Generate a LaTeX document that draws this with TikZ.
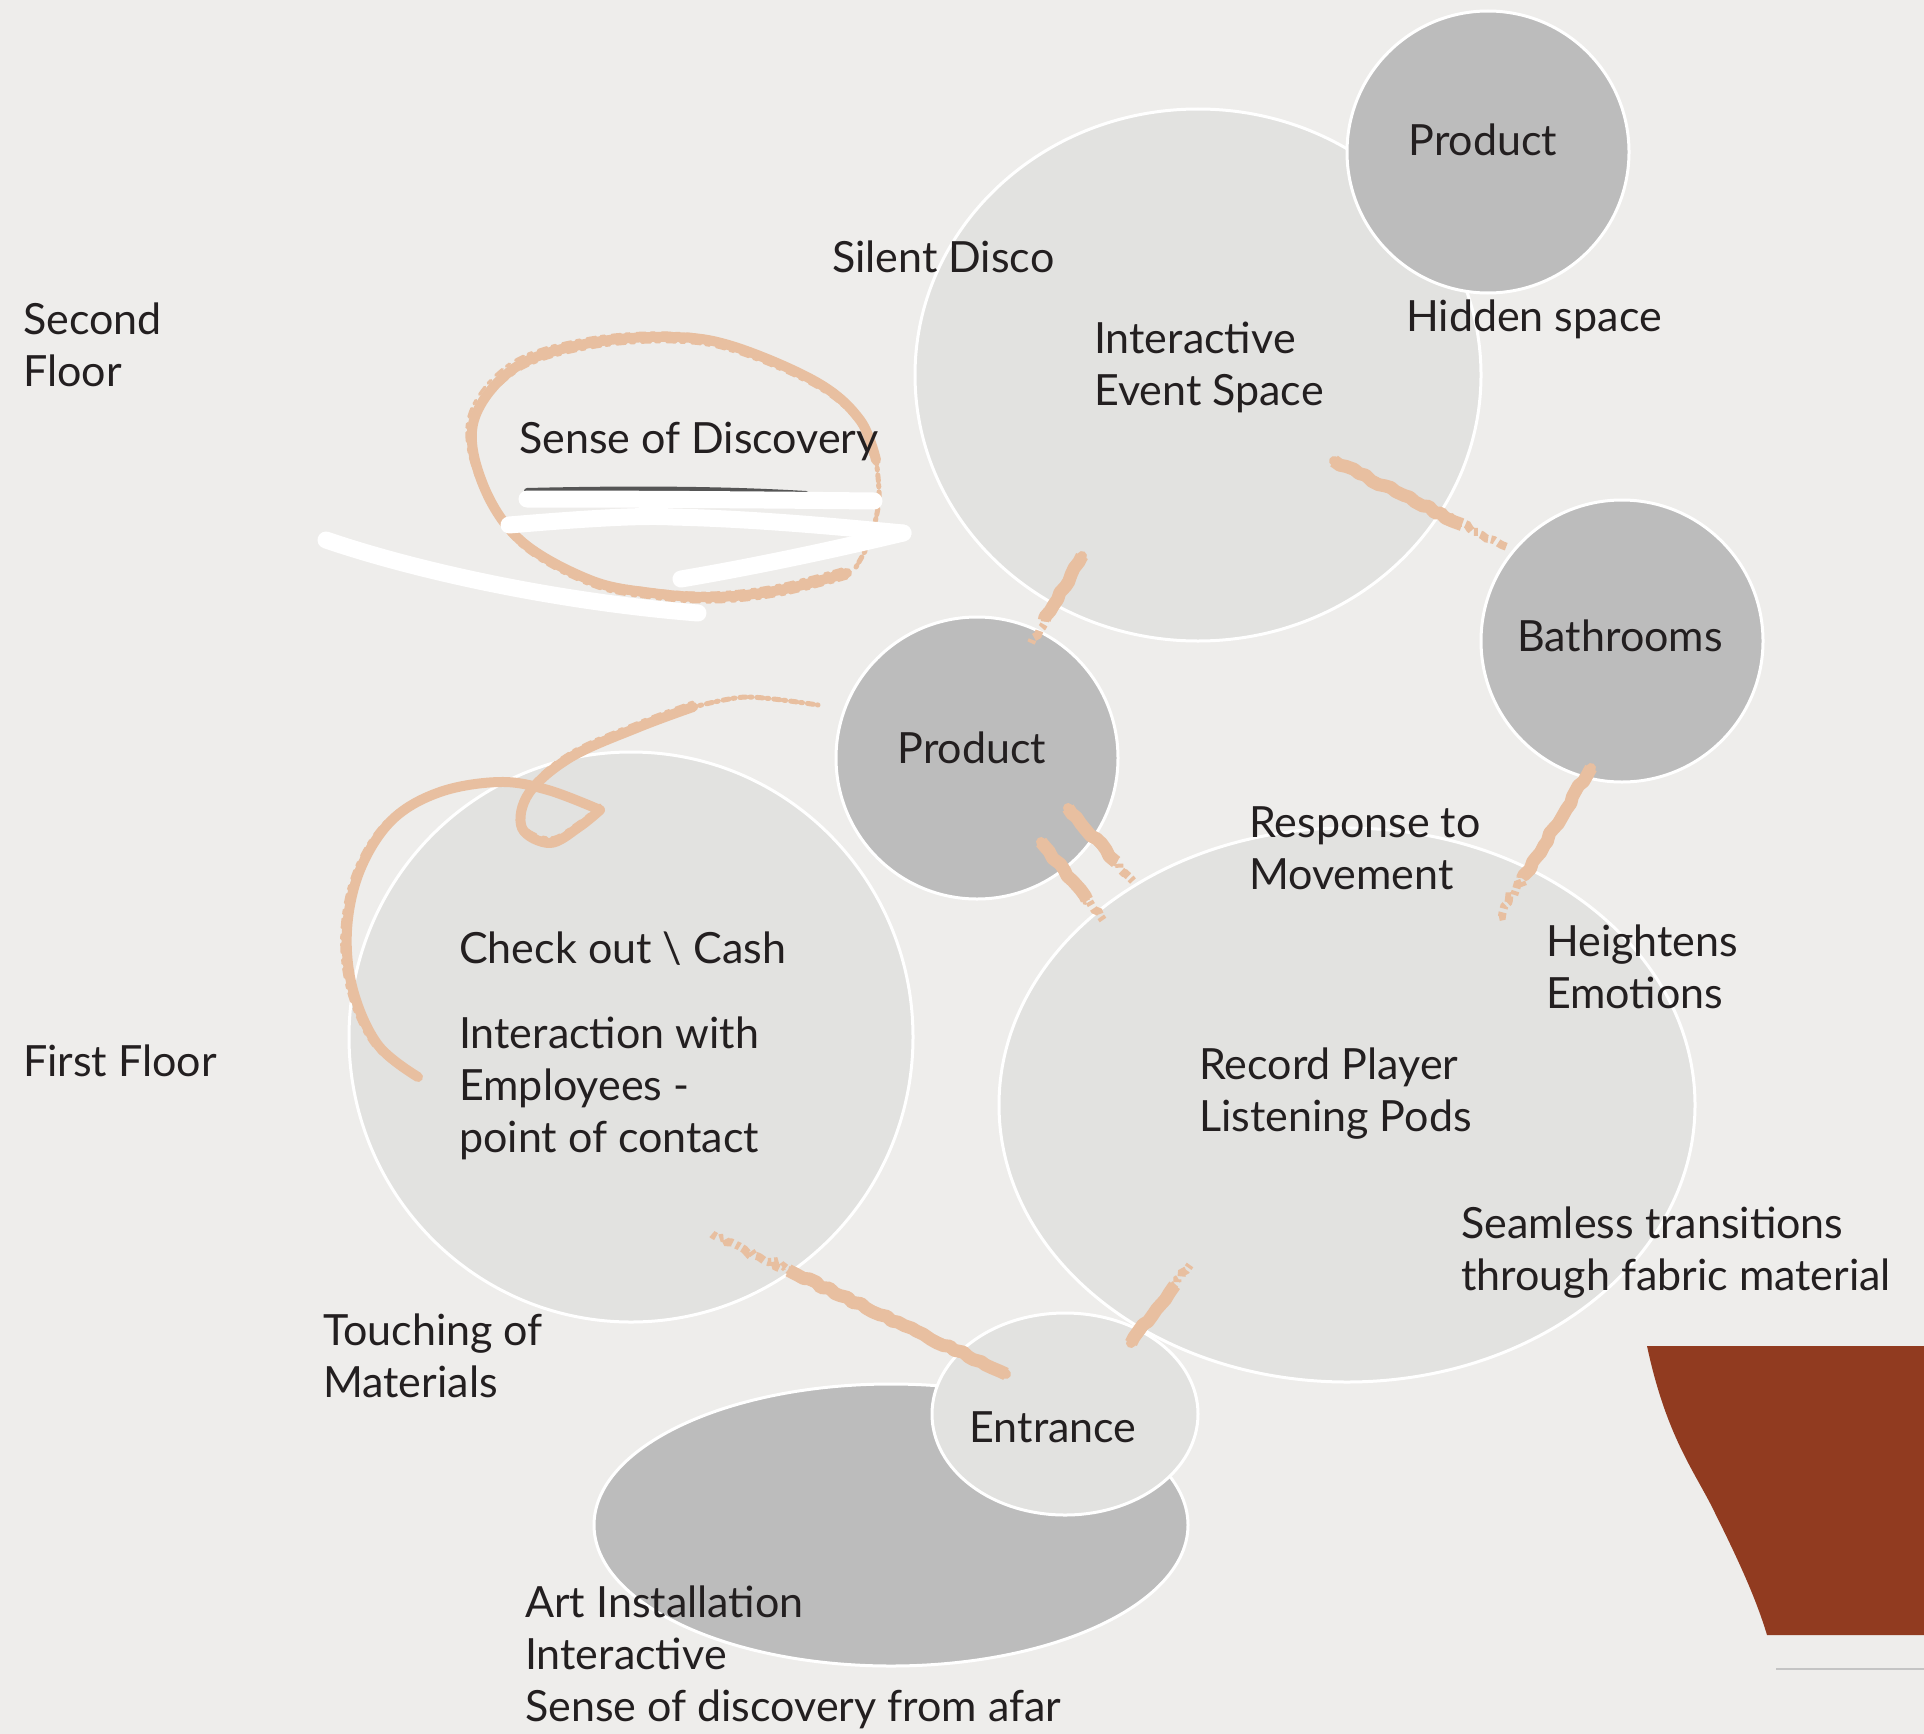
\documentclass[tikz,border=0pt]{standalone}
\usepackage{fontspec}
\setmainfont{Lato}
\usetikzlibrary{shapes.geometric,decorations.pathmorphing,calc}

\definecolor{paper}{HTML}{EEEDEB}
\definecolor{zonelight}{HTML}{E2E2E0}
\definecolor{zonedark}{HTML}{BCBCBC}
\definecolor{ink}{HTML}{231F20}
\definecolor{brushc}{HTML}{E8BFA0}
\definecolor{rust}{HTML}{913B20}
\definecolor{rulec}{HTML}{C4C4C4}
\definecolor{pencil}{HTML}{555555}

\newcommand\labelfont{\fontsize{43}{52}\selectfont}

\tikzset{
  zone/.style={ellipse, draw=white, line width=3pt, inner sep=0pt},
  light/.style={zone, fill=zonelight},
  dark/.style={zone, fill=zonedark},
  txt/.style={anchor=base west, inner sep=0pt, text=ink, font=\labelfont},
  ctxt/.style={anchor=base, inner sep=0pt, text=ink, font=\labelfont},
  brushcore/.style={draw=brushc, line width=10pt, line cap=round},
  brush/.style={draw=brushc, line width=13pt, line join=bevel,
    decorate, decoration={random steps, segment length=7pt, amplitude=1.6pt}},
  brushdry/.style={draw=brushc, line width=8pt,
    dash pattern=on 9pt off 3pt on 4pt off 4pt,
    decorate, decoration={random steps, segment length=4pt, amplitude=2.2pt}},
  loopbrush/.style={draw=brushc, line width=10pt, line cap=round, line join=round},
  loopedge/.style={draw=brushc, line width=3pt, line cap=round,
    dash pattern=on 9pt off 5pt on 4pt off 7pt},
  loopdry/.style={draw=brushc, line width=5pt, line cap=round,
    dash pattern=on 6pt off 4pt on 2pt off 5pt},
  eraser/.style={draw=white, line width=17pt, line cap=round},
}

% a brush stroke: solid from #1, drying out towards #2
\newcommand\brushline[2]{%
  \draw[brushcore] (#1) -- ($(#1)!0.70!(#2)$);
  \draw[brush] (#1) -- ($(#1)!0.74!(#2)$);
  \draw[brushdry] ($(#1)!0.66!(#2)$) -- (#2);}

\begin{document}
\begin{tikzpicture}[x=1pt, y=-1pt]
\pgfmathsetseed{7}
\useasboundingbox (0,0) rectangle (1924,1734);
\fill[paper] (0,0) rectangle (1924,1734);

% zones
\node[light, minimum width=566pt, minimum height=532pt] (event) at (1198,375) {};
\node[dark, minimum size=282pt] (prodtop) at (1488,152) {};
\node[dark, minimum size=282pt] (bath) at (1622,641) {};
\node[light, minimum width=696pt, minimum height=554pt] (record) at (1347,1105) {};
\node[dark, minimum size=282pt] (prodmid) at (977,758) {};
\node[light, minimum width=564pt, minimum height=570pt] (checkout) at (631,1037) {};
\node[dark, minimum width=594pt, minimum height=282pt] (art) at (891,1525) {};
\node[light, minimum width=266pt, minimum height=202pt] (entrance) at (1065,1414) {};

% corner decoration
\fill[rust] (1647,1346) -- (1924,1346) -- (1924,1635) -- (1767,1635)
  .. controls (1755,1595) and (1735,1553) .. (1710,1503)
  .. controls (1690,1465) and (1665,1430) .. (1647,1346) -- cycle;
\draw[rulec, line width=1.2pt] (1776,1669) -- (1924,1669);

% brush stroke end points
\coordinate (evA) at (1082,556);
\coordinate (pmA) at (1031,643);
\coordinate (evB) at (1334,461);
\coordinate (baA) at (1507,547);
\coordinate (pmB) at (1068,808);
\coordinate (reA) at (1133,881);
\coordinate (pmC) at (1041,842);
\coordinate (reB) at (1103,920);
\coordinate (baB) at (1591,768);
\coordinate (reC) at (1499,917);
\coordinate (enA) at (1006,1374);
\coordinate (coA) at (712,1234);
\coordinate (enB) at (1131,1343);
\coordinate (reD) at (1190,1265);

\brushline{evA}{pmA}
\brushline{evB}{baA}
\brushline{pmB}{reA}
\brushline{pmC}{reB}
\brushline{baB}{reC}
\brushline{enA}{coA}
\brushline{enB}{reD}

% loop around "Sense of Discovery"
\def\senseloop{(847,573) (780,590) (715,597) (652,593) (590,580)
  (520,540) (482,482) (474,420) (516,367) (590,343) (673,337) (735,347) (818,383) (860,420) (876,460)}
\draw[loopbrush] plot[smooth, tension=0.6] coordinates {\senseloop};
\draw[loopedge, yshift=-5pt] plot[smooth, tension=0.6] coordinates {\senseloop};
\draw[loopedge, xshift=-5pt, yshift=4pt] plot[smooth, tension=0.6] coordinates {\senseloop};
\draw[loopdry] plot[smooth] coordinates {(876,458) (879,500) (870,540) (856,567)};

% scribble erasing the note under it
\draw[pencil, line width=6pt, line cap=round] (527,491) .. controls (650,488) and (740,490) .. (806,494);
\draw[eraser] (527,499) .. controls (650,499) and (780,500) .. (874,501);
\draw[eraser] (509,525) .. controls (580,519) and (640,515) .. (673,517) .. controls (760,519) and (850,528) .. (903,533);
\draw[eraser] (903,533) .. controls (820,553) and (740,569) .. (681,579);
\draw[eraser] (326,540) .. controls (420,572) and (560,602) .. (698,613);

% loop over the check-out zone
\def\checkloopA{(418,1077) (378,1045) (353,990) (347,930)
  (360,870) (392,820) (440,792) (500,782) (548,790) (600,810)}
\def\checkloopB{(600,810) (579,827) (550,843) (522,828)
  (529,793) (571,757) (639,727) (693,707)}
\draw[loopbrush] plot[smooth, tension=0.6] coordinates {\checkloopA};
\draw[loopedge, xshift=-5pt] plot[smooth, tension=0.6] coordinates {\checkloopA};
\draw[loopbrush] plot[smooth, tension=0.6] coordinates {\checkloopB};
\draw[loopedge, yshift=5pt] plot[smooth, tension=0.6] coordinates {\checkloopB};
\draw[loopdry] plot[smooth] coordinates {(690,708) (746,697) (818,705)};

% labels
\node[txt] (lsecond) at (23,334) {\vtop{\hbox{Second}\hbox{Floor}}};
\node[txt] (lfirst) at (23,1076) {First Floor};
\node[txt] (ldisco) at (832,272) {Silent Disco};
\node[txt] (levent) at (1094,353) {\vtop{\hbox{Interactive}\hbox{Event Space}}};
\node[ctxt] (lprodtop) at (1483,156) {Product};
\node[txt] (lhidden) at (1406,331) {Hidden space};
\node[txt] (lsense) at (519,453) {Sense of Discovery};
\node[ctxt] (lbath) at (1620,651) {Bathrooms};
\node[ctxt] (lprodmid) at (972,763) {Product};
\node[txt] (lresp) at (1249,837) {\vtop{\hbox{Response to}\hbox{Movement}}};
\node[txt] (lheight) at (1546,956) {\vtop{\hbox{Heightens}\hbox{Emotions}}};
\node[txt] (lcheck) at (459,963) {Check out \textbackslash{} Cash};
\node[txt] (linter) at (459,1048) {\vtop{\hbox{Interaction with}\hbox{Employees -}\hbox{point of contact}}};
\node[txt] (lrecord) at (1199,1079) {\vtop{\hbox{Record Player}\hbox{Listening Pods}}};
\node[txt] (lseam) at (1461,1238) {\vtop{\hbox{Seamless transitions}\hbox{through fabric material}}};
\node[txt] (ltouch) at (323,1345) {\vtop{\hbox{Touching of}\hbox{Materials}}};
\node[ctxt] (lentr) at (1053,1442) {Entrance};
\node[txt] (lart) at (525,1617) {\vtop{\hbox{Art Installation}\hbox{Interactive}\hbox{Sense of discovery from afar}}};
\end{tikzpicture}
\end{document}
